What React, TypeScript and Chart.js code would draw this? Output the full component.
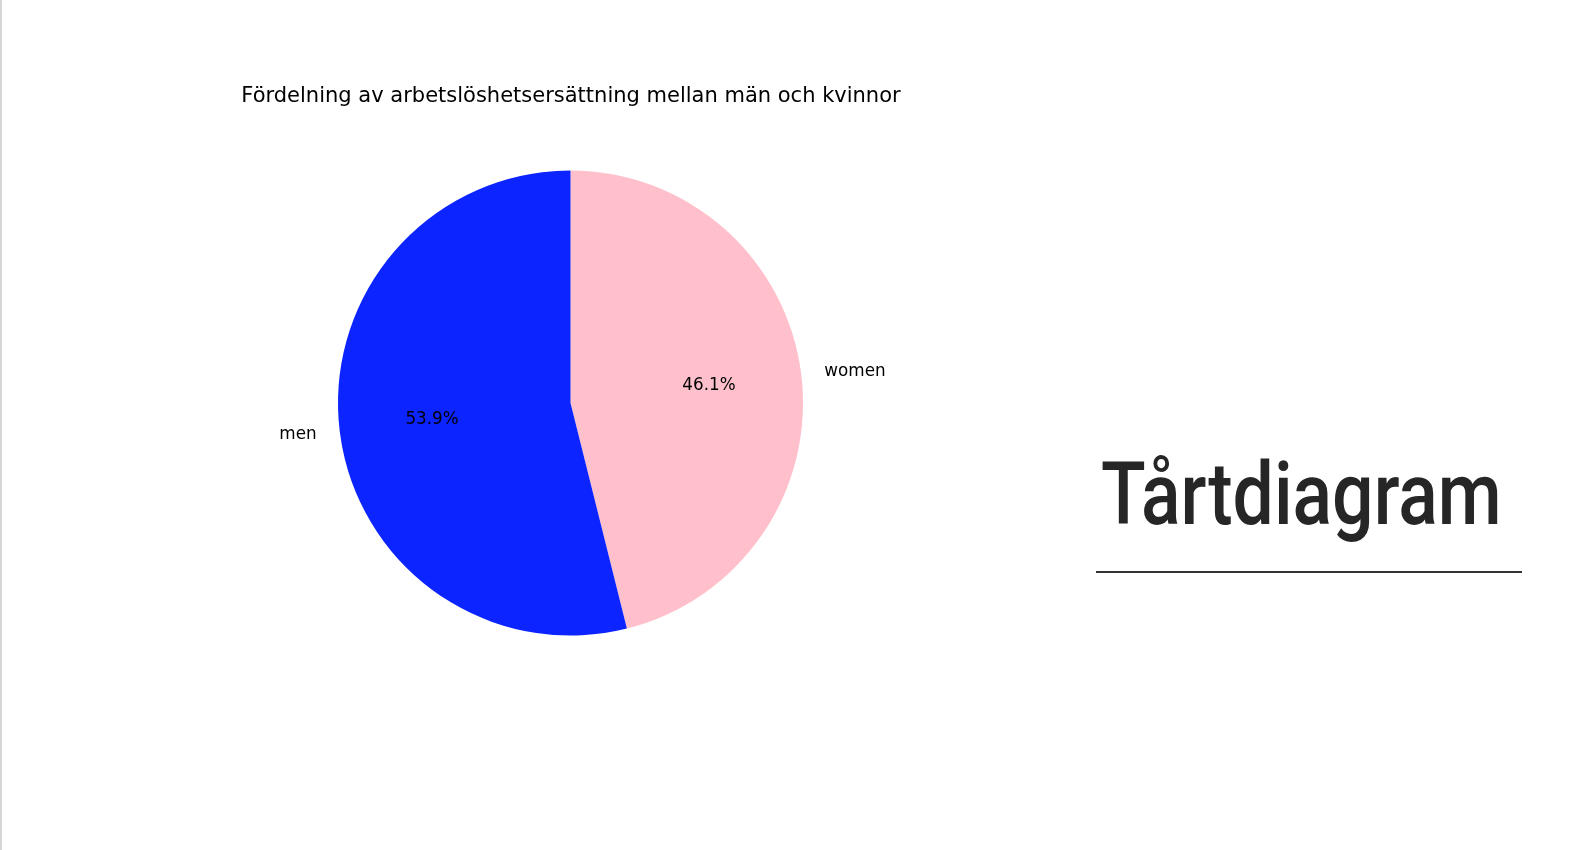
import React, { useEffect, useRef, useState } from "react";
import { Chart, registerables } from "chart.js";

Chart.register(...registerables);

// Data (drawn clockwise from the top in Chart.js; matplotlib drew counter-clockwise)
const categories = ["women", "men"];
const shares = [46.1, 53.9];
const sliceColors = ["#ffc0cb", "#0c24ff"];
const chartTitle = "Fördelning av arbetslöshetsersättning mellan män och kvinnor";
const sideHeading = "Tårtdiagram";

const labelPlugin = {
  id: "pieLabels",
  afterDraw(chart: any) {
    const ctx = chart.ctx;
    const meta = chart.getDatasetMeta(0);
    const total = shares.reduce((a, b) => a + b, 0);
    ctx.save();
    meta.data.forEach((arc: any, i: number) => {
      const mid = (arc.startAngle + arc.endAngle) / 2;
      const r = arc.outerRadius;
      const cx = arc.x;
      const cy = arc.y;
      ctx.fillStyle = "#000";
      ctx.font = "16.8px 'DejaVu Sans'";
      ctx.textAlign = "center";
      ctx.textBaseline = "middle";
      const pct = ((shares[i] / total) * 100).toFixed(1) + "%";
      ctx.fillText(pct, cx + Math.cos(mid) * r * 0.6, cy + Math.sin(mid) * r * 0.6);
      const lx = cx + Math.cos(mid) * r * 1.1;
      const ly = cy + Math.sin(mid) * r * 1.1;
      ctx.textAlign = lx > cx ? "left" : "right";
      ctx.fillText(categories[i], lx, ly);
    });
    ctx.font = "21px 'DejaVu Sans'";
    ctx.textAlign = "center";
    ctx.textBaseline = "alphabetic";
    ctx.fillStyle = "#000";
    ctx.fillText(chartTitle, 571, 102);
    ctx.restore();
  },
};

export default function App() {
  const ref = useRef<HTMLCanvasElement | null>(null);
  const [headScale, setHeadScale] = useState(0.82);
  const [headShift, setHeadShift] = useState(0);

  useEffect(() => {
    const c = document.createElement("canvas").getContext("2d");
    if (c) {
      c.font = "500 88px Roboto";
      const m = c.measureText(sideHeading);
      const ink = m.actualBoundingBoxLeft + m.actualBoundingBoxRight;
      if (ink > 0) {
        const s = 396 / ink;
        setHeadScale(s);
        setHeadShift(m.actualBoundingBoxLeft * s);
      }
    }
  }, []);

  useEffect(() => {
    if (!ref.current) return;
    const chart = new Chart(ref.current, {
      type: "pie",
      data: {
        labels: categories,
        datasets: [
          {
            data: shares,
            backgroundColor: sliceColors,
            borderWidth: 0,
          },
        ],
      },
      options: {
        animation: false,
        responsive: false,
        maintainAspectRatio: false,
        layout: { padding: { left: 338, right: 338, top: 170.5, bottom: 214.5 } },
        plugins: {
          legend: { display: false },
          title: { display: false },
          tooltip: { enabled: false },
        },
      },
      plugins: [labelPlugin],
    });
    return () => chart.destroy();
  }, []);

  return (
    <div style={{ position: "absolute", left: 0, top: 0, width: 1570, height: 850, background: "#fff", overflow: "hidden" }}>
      <div style={{ position: "absolute", left: 0, top: 0, width: 2, height: 850, background: "#d6d6d6" }} />
      <canvas ref={ref} width={1141} height={850} style={{ position: "absolute", left: 0, top: 0, width: 1141, height: 850 }} />
      <div
        style={{
          position: "absolute",
          left: 1102 + headShift,
          top: 450,
          fontFamily: "Roboto, sans-serif",
          fontWeight: 500,
          fontSize: 88,
          lineHeight: "88px",
          color: "#262626",
          whiteSpace: "nowrap",
          transform: `scaleX(${headScale})`,
          transformOrigin: "left top",
        }}
      >
        {sideHeading}
      </div>
      <div style={{ position: "absolute", left: 1096, top: 571, width: 426, height: 2, background: "#333" }} />
    </div>
  );
}
